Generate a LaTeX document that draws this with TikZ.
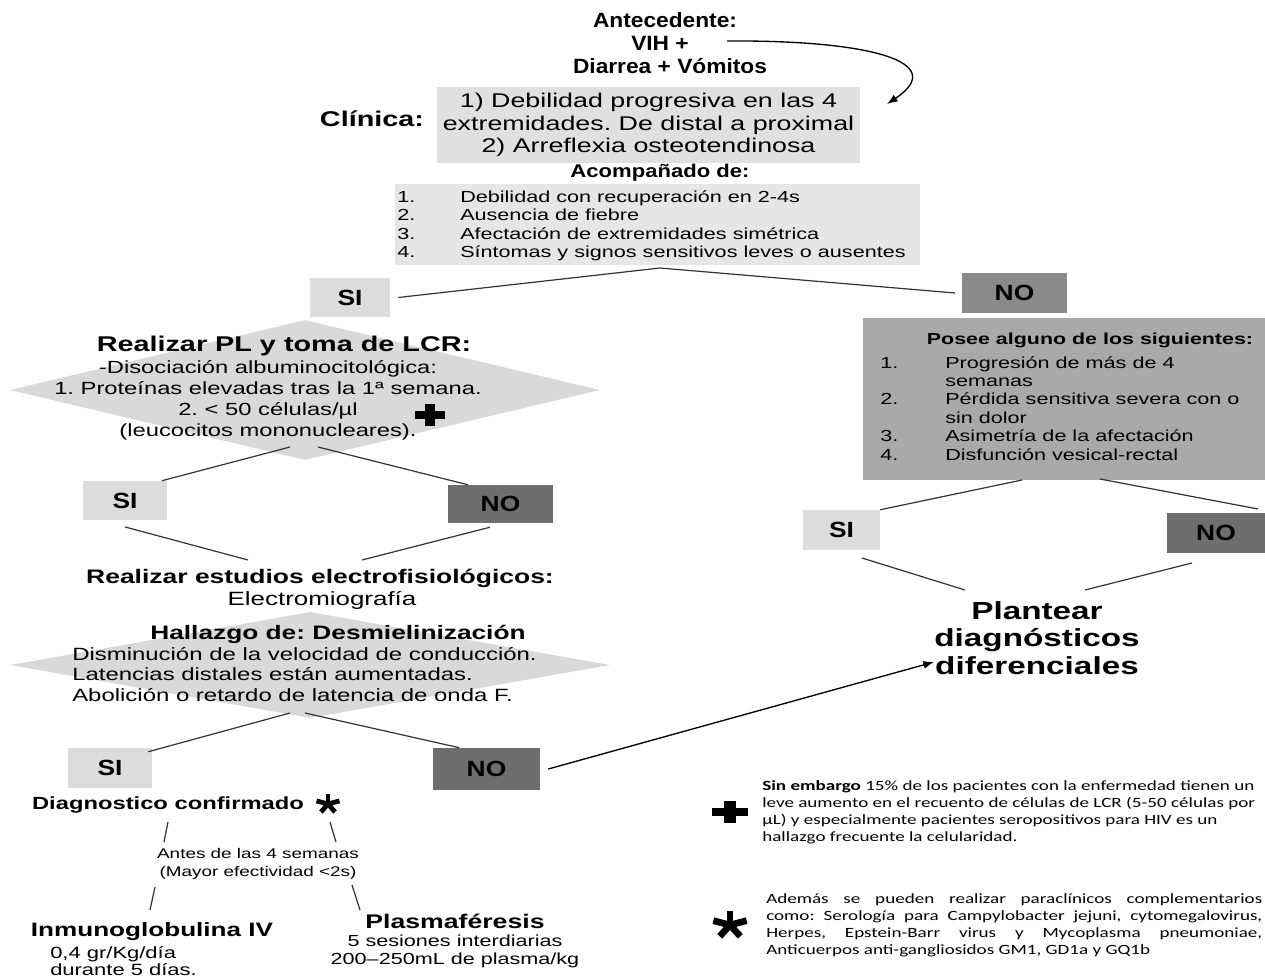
\documentclass[tikz,border=0pt]{standalone}
\usepackage{fontspec}
\setmainfont{Liberation Sans}[FakeStretch=1.2]
\newfontfamily\wfa{Liberation Sans}[FakeStretch=1.1]
\newfontfamily\wfb{Liberation Sans}[FakeStretch=1.35]
\newfontfamily\notefont{Carlito}[FakeStretch=1.35]
\usetikzlibrary{shapes.geometric,fit,arrows.meta}
\definecolor{cbox}{HTML}{E0E0E0}
\definecolor{abox}{HTML}{E6E6E6}
\definecolor{sibox}{HTML}{DCDCDC}
\definecolor{notop}{HTML}{8A8A8A}
\definecolor{nobox}{HTML}{6E6E6E}
\definecolor{posee}{HTML}{A9A9A9}
\definecolor{diam}{HTML}{D9D9D9}
\newcommand\sz[2]{\fontsize{#1}{#2}\selectfont}
\newcommand\li[1]{\makebox[47.25pt][l]{#1}}
\newcommand\lj[1]{\makebox[48.75pt][l]{#1}}
\frenchspacing
\begin{document}
\begin{tikzpicture}[x=0.75pt,y=-0.75pt,
  lbl/.style={inner sep=0pt, align=center},
  bx/.style={inner sep=0pt, font=\bfseries\sz{16.5}{18}},
  conn/.style={line width=0.9pt, draw=black!80},
  arr/.style={line width=1pt, draw=black, -{Latex[length=8pt,width=6pt]}},
  dia/.style={diamond, fill=diam, inner sep=0pt}]
\useasboundingbox (0,0) rectangle (1265,978);

% ---- top
\node[lbl,font=\wfa\bfseries\sz{15.5}{17}] (ant) at (665,20) {Antecedente:};
\node[lbl,font=\wfa\bfseries\sz{15.5}{17}] (vih) at (660,43) {VIH +};
\node[lbl,font=\wfa\bfseries\sz{15.5}{17}] (dia) at (670,66) {Diarrea + Vómitos};
\node[fit={(437,87)(860,163)}, inner sep=0pt, fill=cbox] (clin) {};
\node[lbl,font=\wfb\sz{14.9}{16.9}] (clintxt) at (clin) {1) Debilidad progresiva en las 4\\extremidades. De distal a proximal\\2) Arreflexia osteotendinosa};
\node[lbl,font=\wfb\bfseries\sz{16}{17}] (clinlbl) at (372,119) {Clínica:};
\coordinate (aS) at (727,41);
\coordinate (aE) at (887,104);
\draw[arr] (aS) .. controls (870,40) and (950,62) .. (aE);

\node[lbl,font=\bfseries\sz{13.8}{16}] (acomp) at (660,173) {Acompañado de:};
\node[fit={(395,184)(920,265)}, inner sep=0pt, fill=abox] (acbox) {};
\node[lbl,align=left,anchor=north west,font=\wfb\sz{12}{13.9}] (aclist) at (397,190)
 {\li{1.}Debilidad con recuperación en 2-4s\\
  \li{2.}Ausencia de fiebre\\
  \li{3.}Afectación de extremidades simétrica\\
  \li{4.}Síntomas y signos sensitivos leves o ausentes};

\node[fit={(310,278)(390,317)}, inner sep=0pt, fill=sibox] (si1) {};
\node[bx] (si1t) at (si1) {SI};
\node[fit={(962,273)(1067,313)}, inner sep=0pt, fill=notop] (no1) {};
\node[bx] (no1t) at (no1) {NO};
\coordinate (p1) at (660,268);
\draw[conn] ([xshift=6pt]si1.east) -- (p1) -- ([xshift=-5pt]no1.west);

% ---- right branch
\node[fit={(863,318)(1265,480)}, inner sep=0pt, fill=posee] (pos) {};
\node[lbl,font=\wfb\bfseries\sz{11.9}{13}] (postit) at (1090,340) {Posee alguno de los siguientes:};
\node[lbl,align=left,anchor=north west,font=\wfb\sz{12}{13.8}] (poslist) at (880,356)
 {\lj{1.}Progresión de más de 4\\
  \lj{}semanas\\
  \lj{2.}Pérdida sensitiva severa con o\\
  \lj{}sin dolor\\
  \lj{3.}Asimetría de la afectación\\
  \lj{4.}Disfunción vesical-rectal};
\node[fit={(803,510)(880,550)}, inner sep=0pt, fill=sibox] (si4) {};
\node[bx] (si4t) at (si4) {SI};
\node[fit={(1167,513)(1265,553)}, inner sep=0pt, fill=nobox] (no4) {};
\node[bx] (no4t) at (no4) {NO};
\coordinate (q1) at (1022,480);
\coordinate (q2) at (1100,479);
\coordinate (q3) at (1258,509);
\draw[conn] (q1) -- (si4.north east);
\draw[conn] (q2) -- (q3);
\node[lbl,font=\wfb\bfseries\sz{18.5}{20.6}] (plan) at (1037,638) {Plantear\\diagnósticos\\diferenciales};
\coordinate (r1) at (862,558);
\coordinate (r2) at (965,590);
\coordinate (r3) at (1192,563);
\coordinate (r4) at (1085,590);
\draw[conn] (r1) -- (r2);
\draw[conn] (r3) -- (r4);

% ---- left branch: diamond 1
\node[dia, minimum width=442.5pt, minimum height=105pt] (d1) at (305,390) {};
\node[lbl,font=\wfb\bfseries\sz{16}{17}] (d1tit) at (284,346) {Realizar PL y toma de LCR:};
\node[lbl,font=\wfb\sz{13.2}{15.75}] (d1txt) at (268,400) {-Disociación albuminocitológica:\\1. Proteínas elevadas tras la 1ª semana.\\2. < 50 células/µl\\(leucocitos mononucleares).};
\fill (415,411) rectangle (445,419);
\fill (425,404) rectangle (435,426);
\coordinate (s1) at (290,447);
\coordinate (s2) at (318,447);
\node[fit={(83,481)(167,520)}, inner sep=0pt, fill=sibox] (si2) {};
\node[bx] (si2t) at (si2) {SI};
\node[fit={(448,485)(553,523)}, inner sep=0pt, fill=nobox] (no2) {};
\node[bx] (no2t) at (no2) {NO};
\draw[conn] (s1) -- ([xshift=-4pt]si2.north east);
\draw[conn] (s2) -- ([xshift=15pt]no2.north west);
\coordinate (e1) at (248,560);
\coordinate (e2) at (362,560);
\draw[conn] ([yshift=-5pt]si2.south) -- (e1);
\draw[conn] ([yshift=-3pt,xshift=-8pt]no2.south) -- (e2);
\node[lbl,font=\wfb\bfseries\sz{14.7}{17}] (estud) at (320,578) {Realizar estudios electrofisiológicos:};
\node[lbl,font=\wfb\sz{14.4}{16}] (emg) at (322,600) {Electromiografía};

% ---- diamond 2
\node[dia, minimum width=450pt, minimum height=79.5pt] (d2) at (310,665) {};
\node[lbl,font=\wfb\bfseries\sz{14.6}{16}] (d2tit) at (338,634) {Hallazgo de: Desmielinización};
\node[lbl,align=left,anchor=north west,font=\wfb\sz{13.3}{15.4}] (d2txt) at (72,647)
 {Disminución de la velocidad de conducción.\\Latencias distales están aumentadas.\\Abolición o retardo de latencia de onda F.};
\coordinate (t1) at (290,713);
\coordinate (t2) at (305,713);
\node[fit={(68,748)(152,788)}, inner sep=0pt, fill=sibox] (si3) {};
\node[bx] (si3t) at (si3) {SI};
\node[fit={(433,748)(540,790)}, inner sep=0pt, fill=nobox] (no3) {};
\node[bx] (no3t) at (no3) {NO};
\draw[conn] (t1) -- ([xshift=-3pt,yshift=-3pt]si3.north east);
\draw[conn] (t2) -- ([xshift=20pt]no3.north west);
\draw[arr] ([xshift=6pt]no3.east) -- (plan.west |- 0,662);

% ---- treatment
\node[lbl,font=\wfb\bfseries\sz{13.2}{15}] (diag) at (168,805) {Diagnostico confirmado};
\begin{scope}[shift={(328,804)}, xscale=1.2]
  \foreach \a in {-90,-18,-162,54,126} \draw[line width=3.6pt] (0,0) -- (\a:10);
\end{scope}
\coordinate (u1) at (168,822); \coordinate (u2) at (164,842);
\coordinate (u3) at (330,822); \coordinate (u4) at (336,842);
\draw[conn] (u1) -- (u2);
\draw[conn] (u3) -- (u4);
\node[lbl,font=\wfb\sz{10.5}{13}] (antes) at (258,864) {Antes de las 4 semanas\\(Mayor efectividad <2s)};
\coordinate (v1) at (155,887); \coordinate (v2) at (150,910);
\coordinate (v3) at (352,885); \coordinate (v4) at (360,910);
\draw[conn] (v1) -- (v2);
\draw[conn] (v3) -- (v4);
\node[lbl,font=\wfb\bfseries\sz{14.5}{16}] (inmu) at (152,932) {Inmunoglobulina IV};
\node[lbl,align=left,anchor=north west,font=\wfb\sz{12.2}{12.75}] (inmutxt) at (50,946) {0,4 gr/Kg/día\\durante 5 días.};
\node[lbl,font=\wfb\bfseries\sz{14.8}{16}] (plas) at (455,921) {Plasmaféresis};
\node[lbl,font=\wfb\sz{12}{13.5}] (plastxt) at (455,951) {5 sesiones interdiarias\\200–250mL de plasma/kg};

% ---- notes
\fill (712,808) rectangle (748,816);
\fill (724,801) rectangle (736,823);
\node[lbl,align=left,anchor=north west,font=\notefont\sz{10.6}{12.75}] (note1) at (762,780)
 {\textbf{Sin embargo} 15\% de los pacientes con la enfermedad tienen un\\
  leve aumento en el recuento de células de LCR (5-50 células por\\
  µL) y especialmente pacientes seropositivos para HIV es un\\
  hallazgo frecuente la celularidad.};
\begin{scope}[shift={(730,925)}, xscale=1.25]
  \foreach \a in {-90,-18,-162,54,126} \draw[line width=5pt] (0,0) -- (\a:14);
\end{scope}
\node[lbl,align=left,anchor=north west,font=\notefont\sz{10.6}{12.75}] (note2) at (766,893)
 {\makebox[372pt][s]{Además se pueden realizar paraclínicos complementarios}\\
  \makebox[372pt][s]{como: Serología para Campylobacter jejuni, cytomegalovirus,}\\
  \makebox[372pt][s]{Herpes, Epstein-Barr virus y Mycoplasma pneumoniae,}\\
  Anticuerpos anti-gangliosidos GM1, GD1a y GQ1b};
\end{tikzpicture}
\end{document}
